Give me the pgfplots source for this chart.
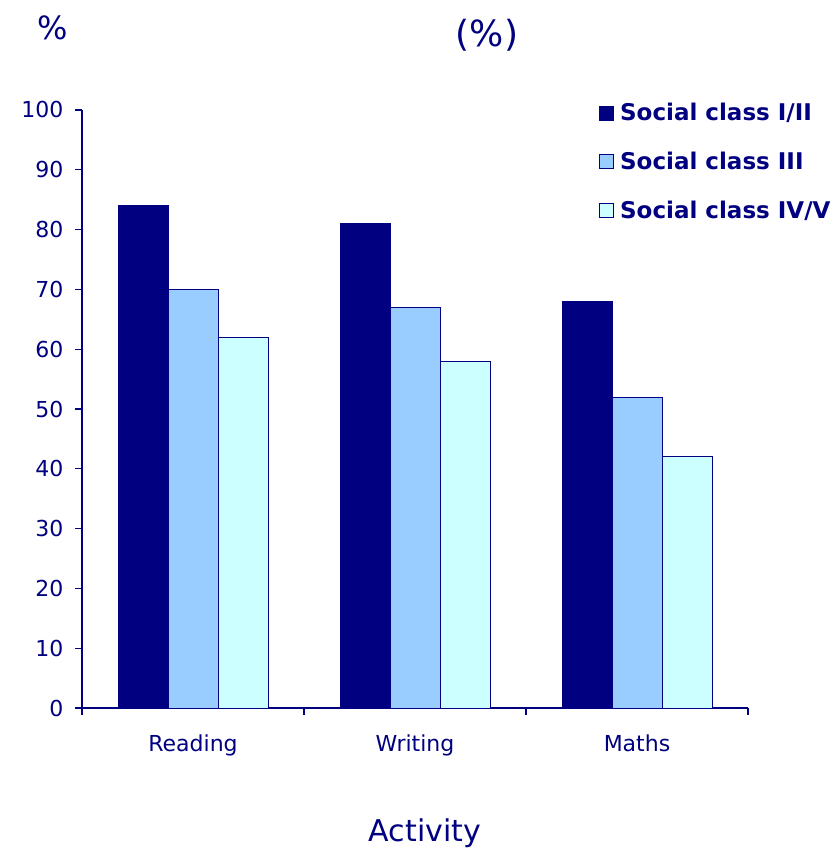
\documentclass[border=0pt]{standalone}
\usepackage{pgfplots}
\pgfplotsset{compat=1.18}
\usepackage{fontspec}
\setmainfont{DejaVu Sans}
\definecolor{navytxt}{RGB}{0,0,128}
\definecolor{c1}{RGB}{0,0,128}
\definecolor{c2}{RGB}{153,204,255}
\definecolor{c3}{RGB}{204,255,255}
\begin{document}
\begin{tikzpicture}
\useasboundingbox (0pt,0pt) rectangle (835pt,850pt);
\begin{axis}[
  at={(82pt,142pt)}, anchor=south west,
  scale only axis, width=666pt, height=598pt,
  ymin=0, ymax=100, xmin=-0.5, xmax=2.5,
  axis x line=bottom, axis y line=left,
  axis line style={-, draw=navytxt, line width=1.2pt},
  ybar=0pt, bar width=50pt,
  xtick={0,1,2}, xticklabels={Reading,Writing,Maths},
  xtick style={draw=none},
  extra x ticks={-0.5,0.5,1.5,2.5}, extra x tick labels={},
  extra x tick style={xtick style={draw=navytxt, line width=1.2pt}},
  ytick={0,10,...,100},
  tick align=outside, major tick length=7pt,
  ytick style={draw=navytxt, line width=1.2pt},
  /pgf/number format/assume math mode=true,
  ticklabel style={font=\fontsize{22}{26}\selectfont, text=navytxt},
  xticklabel style={yshift=-16pt},
  yticklabel style={xshift=-8pt},
  legend style={at={(0.772,1.018)}, anchor=north west, draw=none, fill=none,
    font=\bfseries\fontsize{23}{27}\selectfont, text=navytxt, row sep=26pt,
    /tikz/every odd column/.append style={column sep=4pt}},
  legend cell align=left,
  legend image code/.code={\draw[#1] (0pt,-7pt) rectangle (14pt,7pt);},
]
\addplot[fill=c1, draw=navytxt, line width=0.8pt] coordinates {(0,84) (1,81) (2,68)};
\addplot[fill=c2, draw=navytxt, line width=0.8pt] coordinates {(0,70) (1,67) (2,52)};
\addplot[fill=c3, draw=navytxt, line width=0.8pt] coordinates {(0,62) (1,58) (2,42)};
\legend{Social class I/II, Social class III, Social class IV/V}
\end{axis}
\node[text=navytxt, font=\fontsize{32}{37}\selectfont] at (53pt,822pt) {\%};
\node[text=navytxt, font=\fontsize{36}{42}\selectfont] at (487pt,815pt) {(\%)};
\node[text=navytxt, font=\fontsize{30}{35}\selectfont] at (425pt,17pt) {Activity};
\end{tikzpicture}
\end{document}
